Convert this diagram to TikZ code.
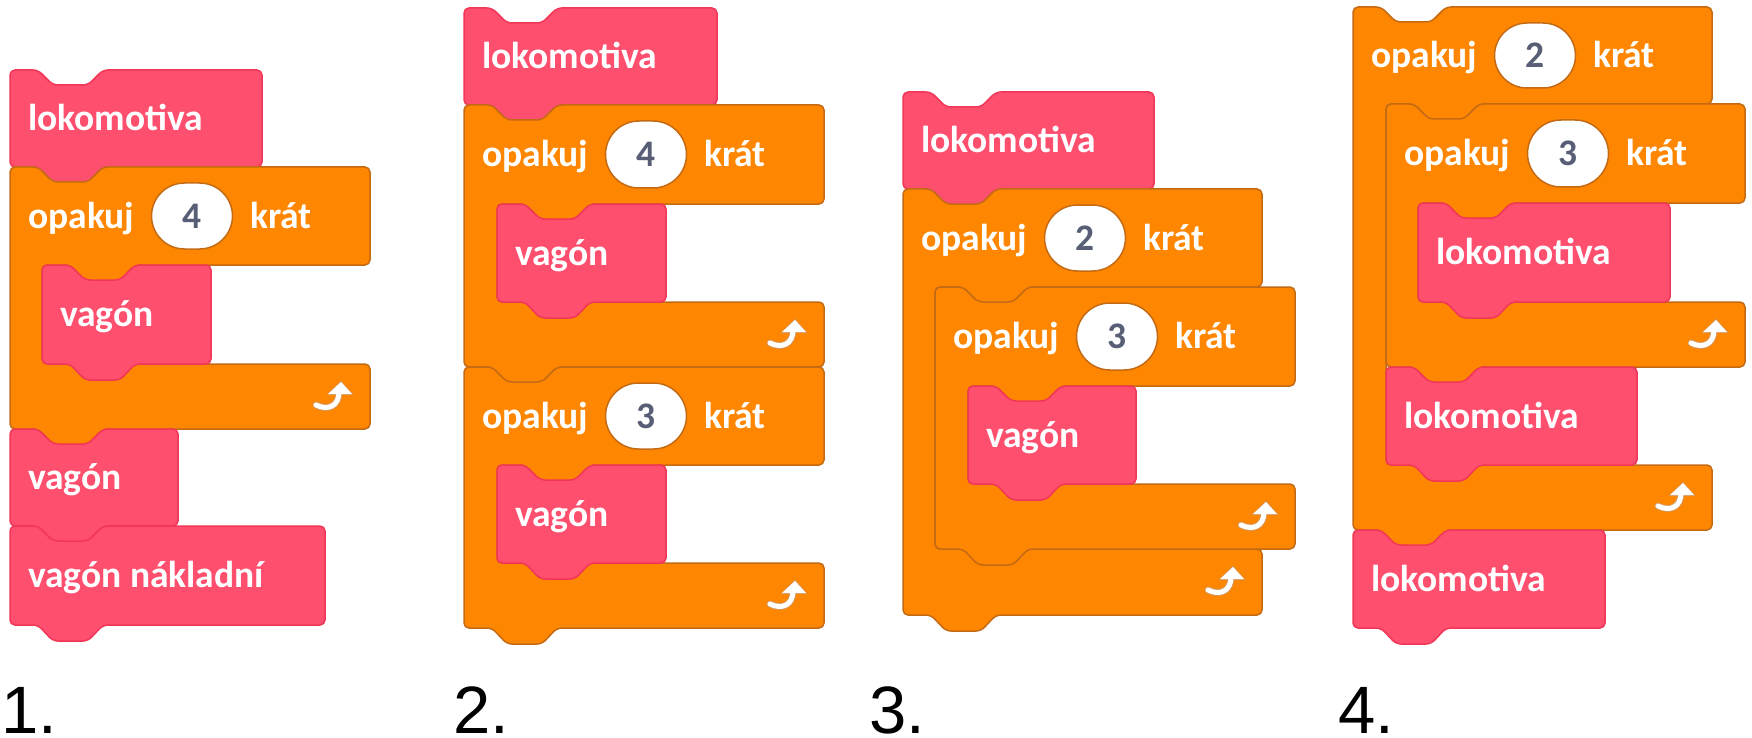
\documentclass[tikz,border=0pt]{standalone}
\usepackage{fontspec}
\setmainfont{Liberation Sans}
\newfontfamily\blockfont{Carlito}
\definecolor{pinkfill}{HTML}{FF4F6F}
\definecolor{pinkline}{HTML}{F23658}
\definecolor{orfill}{HTML}{FF8600}
\definecolor{orline}{HTML}{C46A14}
\definecolor{numcol}{HTML}{575E75}
\tikzset{
  blktext/.style={anchor=base west, inner sep=0pt, text=white, font=\blockfont\bfseries\fontsize{37.5}{37.5}\selectfont},
  pinkshape/.style={fill=pinkfill, draw=pinkline, line width=1.5pt, rounded corners=5pt},
  orshape/.style={fill=orfill, draw=orline, line width=1.5pt, rounded corners=5pt},
  ovalbox/.style={fill=white, draw=orline, line width=1.5pt, minimum width=81pt, inner sep=0pt, text=numcol, font=\blockfont\bfseries\fontsize{37.5}{37.5}\selectfont},
  lbl/.style={anchor=base west, inner sep=0pt, text depth=0pt, font=\fontsize{67}{67}\selectfont}
}
% stack block: name, L, T, R, B, text
\newcommand{\stk}[6]{%
  \path[pinkshape] (#2,#3) -- ({#2+28},#3) -- ({#2+43},{#3+15}) -- ({#2+78},{#3+15}) -- ({#2+93},#3) -- (#4,#3) -- (#4,#5) -- ({#2+93},#5) -- ({#2+78},{#5+16}) -- ({#2+43},{#5+16}) -- ({#2+28},#5) -- (#2,#5) -- cycle;
  \node[blktext] (#1) at ({#2+18},{(#3+#5)/2+12}) {#6};
}
% repeat arrow at (R, Bt)
\newcommand{\reparrow}[2]{%
  \draw[orline!70!white, line width=7pt, line cap=round] ({#1-54},{#2+41}) .. controls ({#1-42},{#2+47}) and ({#1-31},{#2+42}) .. ({#1-31},{#2+28});
  \fill[orline!70!white] ({#1-43.5},{#2+31}) -- ({#1-29},{#2+16.5}) -- ({#1-16.5},{#2+31}) -- cycle;
  \draw[white, line width=5pt, line cap=round] ({#1-54},{#2+41}) .. controls ({#1-42},{#2+47}) and ({#1-31},{#2+42}) .. ({#1-31},{#2+28});
  \fill[white] ({#1-42},{#2+30}) -- ({#1-29},{#2+18}) -- ({#1-18},{#2+30}) -- cycle;
}
% C block: name, L, T, R, Hb, A, Bt, Bb, number
\newcommand{\cblk}[9]{%
  \path[orshape] (#2,#3) -- ({#2+28},#3) -- ({#2+43},{#3+15}) -- ({#2+78},{#3+15}) -- ({#2+93},#3) -- (#4,#3) -- (#4,#5)
    -- ({#6+93},#5) -- ({#6+78},{#5+16}) -- ({#6+43},{#5+16}) -- ({#6+28},#5) -- (#6,#5) -- (#6,#7) -- (#4,#7) -- (#4,#8)
    -- ({#2+93},#8) -- ({#2+78},{#8+16}) -- ({#2+43},{#8+16}) -- ({#2+28},#8) -- (#2,#8) -- cycle;
  \pgfmathsetmacro{\ovh}{#5-#3-32}
  \pgfmathsetmacro{\ovr}{\ovh/2}
  \node[blktext] (#1a) at ({#2+18},{(#3+#5)/2+12}) {opakuj};
  \node[ovalbox, minimum height=\ovh pt, rounded corners=\ovr pt] (#1n) at ({#2+182},{(#3+#5)/2}) {#9};
  \node[blktext] (#1b) at ({#2+240},{(#3+#5)/2+12}) {krát};
  \reparrow{#4}{#7}
}
\begin{document}
\begin{tikzpicture}[x=1pt, y=-1pt]
\useasboundingbox (0,0) rectangle (1752,738);
% ---- 1 ----
\stk{aA}{10}{70}{262}{167}{lokomotiva}
\cblk{aC}{10}{167}{370}{265}{42}{364}{429}{4}
\stk{aB}{42}{265}{211}{364}{vagón}
\stk{aD}{10}{429}{178}{526}{vagón}
\stk{aE}{10}{526}{325}{625}{vagón nákladní}
% ---- 2 ----
\stk{bA}{464}{8}{717}{105}{lokomotiva}
\cblk{bC}{464}{105}{824}{204}{497}{302}{367}{4}
\stk{bB}{497}{204}{666}{302}{vagón}
\cblk{bD}{464}{367}{824}{465}{497}{563}{628}{3}
\stk{bE}{497}{465}{666}{563}{vagón}
% ---- 3 ----
\stk{cA}{903}{92}{1154}{189}{lokomotiva}
\cblk{cC}{903}{189}{1262}{287}{935}{549}{615}{2}
\cblk{cD}{935}{287}{1295}{386}{968}{484}{549}{3}
\stk{cB}{968}{386}{1136}{484}{vagón}
% ---- 4 ----
\cblk{dC}{1353}{7}{1712}{104}{1386}{465}{530}{2}
\cblk{dD}{1386}{104}{1745}{203}{1418}{302}{367}{3}
\stk{dA}{1418}{203}{1670}{302}{lokomotiva}
\stk{dB}{1386}{367}{1637}{465}{lokomotiva}
\stk{dE}{1353}{530}{1605}{628}{lokomotiva}
% labels
\node[lbl] (l1) at (1,733) {1.};
\node[lbl] (l2) at (453,733) {2.};
\node[lbl] (l3) at (869,733) {3.};
\node[lbl] (l4) at (1338,733) {4.};
\end{tikzpicture}
\end{document}
